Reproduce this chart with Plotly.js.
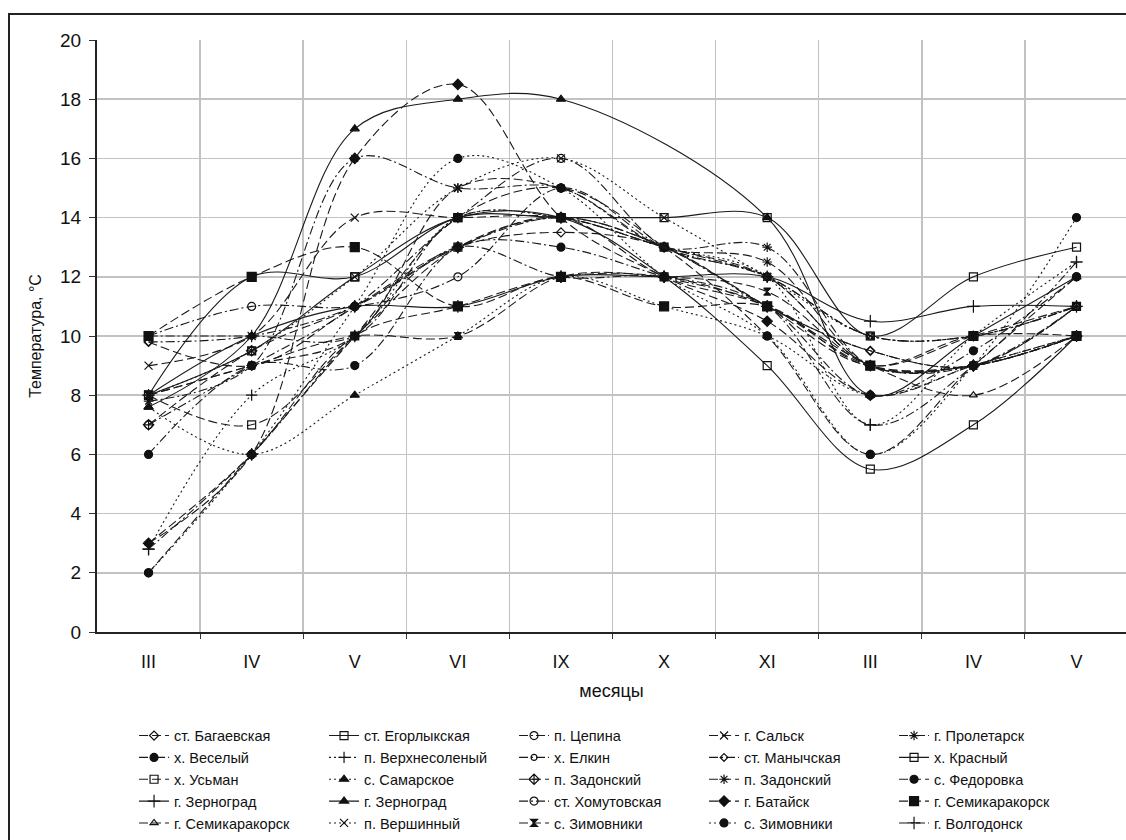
<!DOCTYPE html>
<html><head><meta charset="utf-8">
<script src="https://cdn.plot.ly/plotly-3.0.1.min.js"></script>
<style>
html,body{margin:0;padding:0;background:#fff;overflow:hidden;}
#chart{position:absolute;left:0;top:0;width:1126px;height:840px;}
#frame{position:absolute;left:8px;top:13px;width:1200px;height:900px;border-left:2px solid #222;border-top:2px solid #222;pointer-events:none;}
</style></head>
<body>
<div id="chart"></div>
<div id="frame"></div>
<script>
// Month categories (two seasons)
const months = ["III","IV","V","VI","IX","X","XI","III","IV","V"];

// Station names (legend order)
const stations = [
 "ст. Багаевская","ст. Егорлыкская","п. Цепина","г. Сальск","г. Пролетарск",
 "х. Веселый","п. Верхнесоленый","х. Елкин","ст. Манычская","х. Красный",
 "х. Усьман","с. Самарское","п. Задонский","п. Задонский","с. Федоровка",
 "г. Зерноград","г. Зерноград","ст. Хомутовская","г. Батайск","г. Семикаракорск",
 "г. Семикаракорск","п. Вершинный","с. Зимовники","с. Зимовники","г. Волгодонск"
];

// Temperature values, °C
const bagaevskaya     = [9.8, 9,   11, 13,   13.5, 13,  11,   9.5, 9,   11];
const egorlykskaya    = [8,   9.5, 12, 14,   14,   14,  14,   10,  12,  13];
const tsepina         = [10,  11,  11, 12,   15,   13,  12,   10,  10,  11];
const salsk           = [9,   10,  14, 14,   14,   13,  12,   9,   9,   10];
const proletarsk      = [7.8, 9,   16, 15,   15,   13,  13,   9,   9,   10];
const veselyi         = [6,   9,   9,  13,   13,   12,  11,   8,   9.5, 12];
const verkhnesolenyi  = [2.8, 8,   10, 14,   14,   13,  12,   7,   10,  12.5];
const elkin           = [10,  10,  10, 14,   14,   13,  12,   10,  10,  11];
const manychskaya     = [9.8, 10,  11, 13,   14,   13,  11,   9.5, 9,   11];
const krasnyi         = [8,   12,  12, 14,   14,   12,  9,    5.5, 7,   10];
const usman           = [8,   7,   10, 13,   14,   13,  11,   9,   10,  11];
const samarskoe       = [7.6, 6,   8,  10,   12,   11,  10,   8,   9,   10];
const zadonskiy1      = [7,   9.5, 11, 13,   14,   12,  11,   9,   9,   10];
const zadonskiy2      = [8,   9,   10, 15,   15,   13,  12.5, 9,   9,   10];
const fedorovka       = [2,   6,   10, 14,   15,   13,  10,   6,   9,   12];
const zernograd1      = [8,   10,  11, 11,   12,   12,  12,   10.5,11,  11];
const zernograd2      = [7.6, 10,  17, 18,   18,   null,14,   8,   10,  12];
const khomutovskaya   = [7,   9,   11, 14,   16,   13,  12,   9,   9,   11];
const bataysk         = [3,   6,   16, 18.5, 14,   12,  10.5, 8,   9,   10];
const semikarakorsk1  = [10,  12,  13, 11,   12,   11,  11,   9,   10,  10];
const semikarakorsk2  = [3,   6,   10, 11,   12,   12,  11,   9,   8,   10];
const vershinnyi      = [8,   9.5, 12, 15,   16,   14,  12,   10,  10,  11];
const zimovniki1      = [8,   9,   10, 10,   12,   12,  11.5, 9,   9,   10];
const zimovniki2      = [2,   6,   11, 16,   15,   12,  10,   6,   9,   14];
const volgodonsk      = [2.8, 6,   10, 13,   12,   12,  11,   7,   9,   12.5];

const seriesValues = [bagaevskaya, egorlykskaya, tsepina, salsk, proletarsk,
  veselyi, verkhnesolenyi, elkin, manychskaya, krasnyi,
  usman, samarskoe, zadonskiy1, zadonskiy2, fedorovka,
  zernograd1, zernograd2, khomutovskaya, bataysk, semikarakorsk1,
  semikarakorsk2, vershinnyi, zimovniki1, zimovniki2, volgodonsk];

// Line dash patterns
const D = "9px,4px", DD = "9px,3px,2px,3px", DT = "2px,3px", S = "solid";

// Styles: [dash, marker symbol, marker size]
const styles = [
 [D,"diamond-open",7], [S,"square-open",8], [DD,"circle-open",8], [D,"x-thin-open",8], [DD,"asterisk-open",8],
 [DD,"circle",8], [DT,"cross-thin-open",8], [DD,"circle-open",6], [DD,"diamond-open",6], [S,"square-open",8],
 [D,"square-open",8], [DT,"triangle-up",8], [D,"diamond-cross-open",8], [D,"asterisk-open",8], [D,"circle",8],
 [S,"cross-thin-open",9], [S,"triangle-up",8], [DD,"circle-open",8], [D,"diamond",8], [D,"square",9],
 [D,"triangle-up-open",7], [DT,"x-thin-open",8], [D,"hourglass",7], [DT,"circle",8], [DD,"cross-thin-open",9]
];

const xIdx = months.map((m,i)=>i);

const traces = stations.map((name,i)=>({
  type:"scatter", mode:"lines+markers", name:name,
  x:xIdx, y:seriesValues[i], connectgaps:true,
  line:{color:"#1a1a1a", width:1.1, dash:styles[i][0], shape:"spline", smoothing:1},
  marker:{symbol:styles[i][1], size:styles[i][2], color:"#111", line:{color:"#111", width:1.2}}
}));
// dummy trace for boundary grid axis
traces.push({type:"scatter", x:[0], y:[0], xaxis:"x2", yaxis:"y", mode:"markers",
  marker:{opacity:0}, showlegend:false, hoverinfo:"skip"});

const font = "Liberation Sans, Arial, sans-serif";
const layout = {
  width:1126, height:840,
  margin:{l:97, r:0, t:40, b:205},
  paper_bgcolor:"#fff", plot_bgcolor:"#fff",
  font:{family:font, color:"#111", size:14},
  showlegend:true,
  xaxis:{range:[-0.5,9.48], tickvals:xIdx, ticktext:months, ticks:"", showgrid:false,
    zeroline:false, showline:true, linecolor:"#222", linewidth:2,
    tickfont:{size:18, family:font}, ticklabelstandoff:12,
    title:{text:"месяцы", font:{size:18, family:font}, standoff:14}},
  xaxis2:{overlaying:"x", range:[-0.5,9.48], tickvals:[0.5,1.5,2.5,3.5,4.5,5.5,6.5,7.5,8.5],
    showticklabels:false, ticks:"outside", ticklen:6, tickcolor:"#333", showgrid:true,
    gridcolor:"#c2c2c2", gridwidth:1.5, zeroline:false, showline:false, layer:"below traces"},
  yaxis:{range:[0,20], dtick:2, tick0:0, ticks:"outside", ticklen:6, tickcolor:"#333",
    showgrid:true, gridcolor:"#c2c2c2", gridwidth:1.5, zeroline:false,
    showline:true, linecolor:"#222", linewidth:2, tickfont:{size:19, family:font},
    ticklabelstandoff:4,
    title:{text:"Температура, °C", font:{size:16, family:font}, standoff:14}},
  legend:{orientation:"h", x:0.036, xanchor:"left", y:-0.148, yanchor:"top",
    entrywidth:145, entrywidthmode:"pixels", font:{size:14.5, family:font, color:"#111"},
    bgcolor:"rgba(0,0,0,0)", traceorder:"normal", itemwidth:30, tracegroupgap:0}
};

Plotly.newPlot("chart", traces, layout, {displayModeBar:false, staticPlot:true});
</script>
</body></html>
